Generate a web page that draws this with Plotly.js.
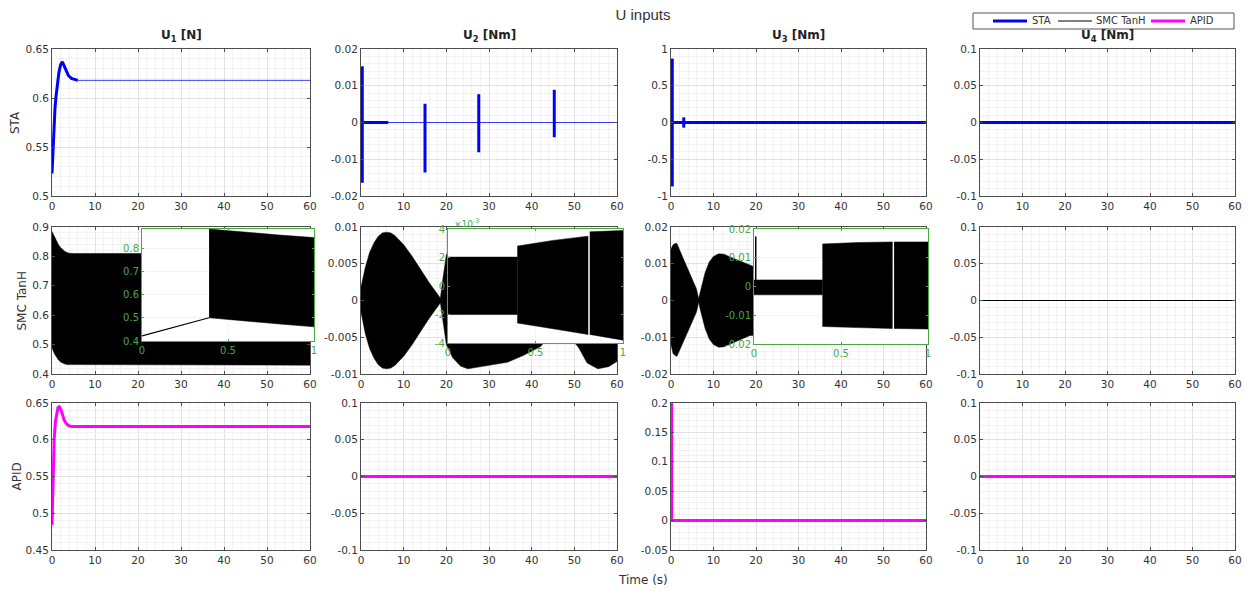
<!DOCTYPE html>
<html><head><meta charset="utf-8">
<script src="https://cdn.plot.ly/plotly-3.0.1.min.js"></script>
<style>html,body{margin:0;padding:0;background:#fff}#chart{width:1250px;height:591px}</style>
</head><body><div id="chart"></div>
<script>
// ================= DATA =================
// Row 1 : STA
const tU1STA = [0,0.1,0.2,0.35,0.5,0.7,0.9,1.2,1.6,2.0,2.4,2.8,3.3,3.8,4.5,5.2,6.0];
const yU1STA = [0.523,0.535,0.548,0.562,0.575,0.59,0.6,0.613,0.626,0.634,0.637,0.633,0.627,0.623,0.62,0.619,0.618];
const tU1STAtail = [6,60];
const yU1STAtail = [0.618,0.618];
const tU2STA = [0,6.4];
const yU2STA = [0,0];
const tU2STAtail = [6.4,60];
const yU2STAtail = [0,0];
const spikeTU2STA = [0.3,15.0,27.6,45.3];
const spikeHiU2STA = [0.0153,0.0051,0.0077,0.0089];
const spikeLoU2STA = [-0.0164,-0.0136,-0.0081,-0.004];
const tU3STA = [0,60];
const yU3STA = [0,0];
const spikeTU3STA = [0.3,3.0];
const spikeHiU3STA = [0.87,0.07];
const spikeLoU3STA = [-0.87,-0.07];
const tU4STA = [0,60];
const yU4STA = [0,0];

// Row 2 : SMC TanH (chattering shown as envelopes)
const tU1SMC = [0,0.3,0.6,1,1.5,2,2.5,3,3.5,4,5,60];
const upU1SMC = [0.885,0.875,0.865,0.853,0.84,0.83,0.822,0.817,0.813,0.811,0.81,0.81];
const loU1SMC = [0.49,0.478,0.468,0.458,0.448,0.441,0.437,0.434,0.432,0.431,0.43,0.43];
const tU2SMC = [0,1,2,3,4,5,6,7,8,10,12,14,16,18,18.6,19.2,20,21.5,23.3,25,30,34.3,38,42,44,46.5,49,51,53,55.5,58,60];
const upU2SMC = [0.0018,0.0045,0.0065,0.0078,0.0087,0.0092,0.0093,0.0092,0.0088,0.0076,0.006,0.0042,0.0024,0.0008,0.0003,0.003,0.0062,0.0078,0.0089,0.0093,0.0088,0.0084,0.0075,0.0063,0.005,0.003,0.005,0.0064,0.0085,0.0093,0.009,0.0083];
const loU2SMC = [-0.0016,-0.0045,-0.0065,-0.0078,-0.0087,-0.0092,-0.0093,-0.0092,-0.0088,-0.0076,-0.006,-0.0042,-0.0024,-0.0008,-0.0003,-0.003,-0.006,-0.0078,-0.0089,-0.0093,-0.0088,-0.0084,-0.0075,-0.0063,-0.005,-0.003,-0.005,-0.0064,-0.0085,-0.0093,-0.009,-0.0083];
const tU3SMC = [0,0.5,1,1.4,2,3,4,5,6,6.5,7,8,9,10,11.2,12.5,14,16,18.6,20,30,40,50,60];
const upU3SMC = [0.014,0.0152,0.0155,0.0155,0.0138,0.0111,0.0085,0.0058,0.0031,0.0005,0.003,0.0075,0.0105,0.012,0.0127,0.0126,0.0118,0.0108,0.0095,0.009,0.009,0.009,0.009,0.009];
const loU3SMC = [-0.012,-0.0145,-0.015,-0.0152,-0.0138,-0.0111,-0.0085,-0.0058,-0.0031,-0.0005,-0.003,-0.0075,-0.0105,-0.012,-0.0127,-0.0126,-0.0118,-0.0108,-0.0095,-0.0095,-0.0093,-0.0093,-0.0093,-0.0093];
const tU4SMC = [0,60];
const yU4SMC = [0,0];
// insets (first second)
const tIn1Line = [0,0.39];
const yIn1Line = [0.422,0.5];
const tIn1Band = [0.39,0.6,0.8,1];
const upIn1Band = [0.882,0.868,0.856,0.845];
const loIn1Band = [0.5,0.486,0.473,0.461];
const tIn2A = [0,0.396];
const upIn2A = [0.00203,0.00203];
const loIn2A = [-0.002,-0.002];
const tIn2B = [0.396,0.6,0.8];
const upIn2B = [0.0028,0.0032,0.0035];
const loIn2B = [-0.0026,-0.003,-0.0034];
const tIn2C = [0.81,1];
const upIn2C = [0.0038,0.0039];
const loIn2C = [-0.0034,-0.0038];
const tIn3Spike = [0.01,0.01];
const yIn3Spike = [0.0023,0.0174];
const tIn3A = [0,0.393];
const upIn3A = [0.0023,0.0023];
const loIn3A = [-0.0029,-0.0029];
const tIn3B = [0.393,0.6,0.795];
const upIn3B = [0.0148,0.0153,0.0155];
const loIn3B = [-0.0139,-0.0143,-0.0146];
const tIn3C = [0.805,1];
const upIn3C = [0.0155,0.0155];
const loIn3C = [-0.0146,-0.0148];

// Row 3 : APID
const tU1APID = [0,0.2,0.5,0.8,1.1,1.4,1.7,2.0,2.4,2.8,3.3,3.9,4.5,6,60];
const yU1APID = [0.484,0.54,0.6,0.625,0.638,0.644,0.645,0.642,0.635,0.627,0.622,0.619,0.618,0.618,0.618];
const tU2APID = [0,60];
const yU2APID = [0,0];
const tU3APID = [0.15,0.15,60];
const yU3APID = [0.2,0,0];
const tU4APID = [0,60];
const yU4APID = [0,0];

// Tick labels / texts
const xTicks = [0,10,20,30,40,50,60];
const yTicksU1STA = [0.5,0.55,0.6,0.65];
const yTicksU2STA = [-0.02,-0.01,0,0.01,0.02];
const yTicksU3STA = [-1,-0.5,0,0.5,1];
const yTicksU4 = [-0.1,-0.05,0,0.05,0.1];
const yTicksU1SMC = [0.4,0.5,0.6,0.7,0.8,0.9];
const yTicksU2SMC = [-0.01,-0.005,0,0.005,0.01];
const yTicksU3SMC = [-0.02,-0.01,0,0.01,0.02];
const yTicksU1APID = [0.45,0.5,0.55,0.6,0.65];
const yTicksU3APID = [-0.05,0,0.05,0.1,0.15,0.2];
const inXTicks = [0,0.5,1];
const inXTickText = ['0','0.5','1'];
const in1YTicks = [0.4,0.5,0.6,0.7,0.8];
const in2YTicks = [-0.004,-0.002,0,0.002,0.004];
const in2YTickText = ['-4','-2','0','2','4'];
const in3YTicks = [-0.02,-0.01,0,0.01,0.02];
const colTitles = ['U<sub>1</sub> [N]','U<sub>2</sub> [Nm]','U<sub>3</sub> [Nm]','U<sub>4</sub> [Nm]'];
const rowTitles = ['STA','SMC TanH','APID'];
const legendNames = ['STA','SMC TanH','APID'];

// ================= LAYOUT / STYLE =================
const W = 1250, H = 591;
const BLUE = '#0000ff', MAG = '#ff00ff', BLACK = '#000000';
const GRID = '#e2e2e2', MINOR = '#f2f2f2', AXC = '#4d4d4d', TXT = '#333333', GREEN = '#4aa843';
const FONT = 'DejaVu Sans, Arial, sans-serif';
const colPx = [[52,310],[361,617],[671,926],[980,1235]];
const rowPx = [[49,196],[227,374],[403,550]];
const yRanges = [
  [[0.5,0.65],[-0.02,0.02],[-1,1],[-0.1,0.1]],
  [[0.4,0.9],[-0.01,0.01],[-0.02,0.02],[-0.1,0.1]],
  [[0.45,0.65],[-0.1,0.1],[-0.05,0.2],[-0.1,0.1]]
];
const yTicks = [
  [yTicksU1STA,yTicksU2STA,yTicksU3STA,yTicksU4],
  [yTicksU1SMC,yTicksU2SMC,yTicksU3SMC,yTicksU4],
  [yTicksU1APID,yTicksU4,yTicksU3APID,yTicksU4]
];
const rowLabelX = [15.5,22,16];
// manual legend geometry (pixels)
const legBox = {x0: 973, x1: 1234, y0: 13, y1: 29};
const legLineX = [[993,1027],[1058,1092],[1151,1185]];
const legTextX = [1030,1094,1188];
const legColors = [BLUE, BLACK, MAG];
const legWidths = [3, 1, 3];

function fmt(v){ return String(Number(v.toPrecision(6))); }
function sid(k){ return k === 1 ? '' : String(k); }
function ax(k){ return {xaxis:'x'+sid(k), yaxis:'y'+sid(k)}; }

const layout = {
  width: W, height: H,
  margin: {l:0,r:0,t:0,b:0},
  paper_bgcolor: '#ffffff', plot_bgcolor: '#ffffff',
  font: {family: FONT, size: 10.5, color: TXT},
  title: {text: 'U inputs', font: {family: 'Liberation Sans, Arial, sans-serif', size: 15, color: '#333333'},
          x: 643/W, xanchor: 'center', xref: 'paper', y: 1-15/H, yanchor: 'middle', yref: 'container'},
  showlegend: false,
  annotations: [], shapes: []
};

for (let r = 0; r < 3; r++) {
  for (let c = 0; c < 4; c++) {
    const k = r*4 + c + 1;
    const yr = yRanges[r][c];
    const yt = yTicks[r][c];
    const step = yt[1] - yt[0];
    layout['xaxis'+sid(k)] = {
      domain: [colPx[c][0]/W, colPx[c][1]/W], anchor: 'y'+sid(k), range: [0,60],
      tickmode: 'array', tickvals: xTicks, ticktext: xTicks.map(fmt),
      ticks: 'inside', ticklen: 3, tickcolor: AXC, showline: true, linecolor: AXC, linewidth: 1, mirror: 'ticks',
      showgrid: true, gridcolor: GRID, gridwidth: 1, zeroline: false,
      minor: {tickmode: 'linear', tick0: 0, dtick: 2, showgrid: true, gridcolor: MINOR, ticks: ''},
      tickfont: {size: 10.5, color: TXT}, fixedrange: true
    };
    layout['yaxis'+sid(k)] = {
      domain: [1-rowPx[r][1]/H, 1-rowPx[r][0]/H], anchor: 'x'+sid(k), range: yr,
      tickmode: 'array', tickvals: yt, ticktext: yt.map(fmt),
      ticks: 'inside', ticklen: 3, tickcolor: AXC, showline: true, linecolor: AXC, linewidth: 1, mirror: 'ticks',
      showgrid: true, gridcolor: GRID, gridwidth: 1, zeroline: false,
      minor: {tickmode: 'linear', tick0: yr[0], dtick: step/5, showgrid: true, gridcolor: MINOR, ticks: ''},
      tickfont: {size: 10.5, color: TXT}, fixedrange: true
    };
  }
}

// insets
const insetPx = [
  {k: 13, x: [142,314], y: [229,341], yr: [0.4,0.882], yt: in1YTicks, ytt: in1YTicks.map(fmt)},
  {k: 14, x: [448,623], y: [229,343], yr: [-0.004,0.004], yt: in2YTicks, ytt: in2YTickText},
  {k: 15, x: [754,928], y: [229,344], yr: [-0.02,0.02], yt: in3YTicks, ytt: in3YTicks.map(fmt)}
];
insetPx.forEach(p => {
  layout['xaxis'+p.k] = {
    domain: [p.x[0]/W, p.x[1]/W], anchor: 'y'+p.k, range: [0,1],
    tickmode: 'array', tickvals: inXTicks, ticktext: inXTickText,
    ticks: 'inside', ticklen: 2, tickcolor: GREEN, showline: true, linecolor: GREEN, linewidth: 1, mirror: 'ticks',
    showgrid: true, gridcolor: '#f4f4f4', zeroline: false,
    tickfont: {size: 10, color: GREEN}, fixedrange: true
  };
  layout['yaxis'+p.k] = {
    domain: [1-p.y[1]/H, 1-p.y[0]/H], anchor: 'x'+p.k, range: p.yr,
    tickmode: 'array', tickvals: p.yt, ticktext: p.ytt,
    ticks: 'inside', ticklen: 2, tickcolor: GREEN, showline: true, linecolor: GREEN, linewidth: 1, mirror: 'ticks',
    showgrid: true, gridcolor: '#f4f4f4', zeroline: false,
    tickfont: {size: 10, color: GREEN}, fixedrange: true
  };
});

// text annotations
colTitles.forEach((t, c) => {
  layout.annotations.push({text: t, xref: 'paper', yref: 'paper', x: (colPx[c][0]+colPx[c][1])/2/W, y: 1-36/H,
    xanchor: 'center', yanchor: 'middle', showarrow: false, font: {size: 12, color: '#222222', weight: 'bold'}});
});
rowTitles.forEach((t, r) => {
  layout.annotations.push({text: t, xref: 'paper', yref: 'paper', x: rowLabelX[r]/W, y: 1-(rowPx[r][0]+rowPx[r][1])/2/H,
    xanchor: 'center', yanchor: 'middle', textangle: -90, showarrow: false, font: {size: 12, color: TXT}});
});
layout.annotations.push({text: 'Time (s)', xref: 'paper', yref: 'paper', x: 643/W, y: 1-580/H,
  xanchor: 'center', yanchor: 'middle', showarrow: false, font: {size: 12, color: TXT}});
layout.annotations.push({text: '\u00d710<sup>-3</sup>', xref: 'paper', yref: 'paper', x: 452/W, y: 1-223/H,
  xanchor: 'left', yanchor: 'middle', showarrow: false, font: {size: 9, color: GREEN}});

// legend (drawn as box + line samples + labels)
layout.shapes.push({type: 'rect', xref: 'paper', yref: 'paper', x0: legBox.x0/W, x1: legBox.x1/W,
  y0: 1-legBox.y1/H, y1: 1-legBox.y0/H, line: {color: '#555555', width: 1}, fillcolor: '#ffffff', layer: 'above'});
const legY = (legBox.y0 + legBox.y1)/2;
legendNames.forEach((n, i) => {
  layout.shapes.push({type: 'line', xref: 'paper', yref: 'paper', x0: legLineX[i][0]/W, x1: legLineX[i][1]/W,
    y0: 1-legY/H, y1: 1-legY/H, line: {color: legColors[i], width: legWidths[i]}, layer: 'above'});
  layout.annotations.push({text: n, xref: 'paper', yref: 'paper', x: legTextX[i]/W, y: 1-legY/H,
    xanchor: 'left', yanchor: 'middle', showarrow: false, font: {size: 10, color: TXT}});
});

// ================= TRACES =================
function line(x, y, k, color, width, name) {
  return Object.assign({type: 'scatter', mode: 'lines', x: x, y: y, line: {color: color, width: width},
    name: name || '', showlegend: false, hoverinfo: 'skip'}, ax(k));
}
function band(x, up, lo, k, color) {
  const xs = x.concat(x.slice().reverse());
  const ys = up.concat(lo.slice().reverse());
  return Object.assign({type: 'scatter', mode: 'lines', x: xs, y: ys, fill: 'toself', fillcolor: color,
    line: {color: color, width: 0.5}, showlegend: false, hoverinfo: 'skip'}, ax(k));
}
function spikes(t, hi, lo, k, color, width) {
  const xs = [], ys = [];
  t.forEach((v, i) => { xs.push(v, v, null); ys.push(lo[i], hi[i], null); });
  return line(xs, ys, k, color, width);
}

const traces = [
  // STA
  line(tU1STA, yU1STA, 1, BLUE, 3, 'STA'),
  line(tU1STAtail, yU1STAtail, 1, 'rgba(0,0,255,0.75)', 1, 'STA'),
  line(tU2STA, yU2STA, 2, BLUE, 3, 'STA'),
  line(tU2STAtail, yU2STAtail, 2, 'rgba(0,0,255,0.75)', 1, 'STA'),
  spikes(spikeTU2STA, spikeHiU2STA, spikeLoU2STA, 2, BLUE, 3),
  line(tU3STA, yU3STA, 3, BLUE, 3, 'STA'),
  spikes(spikeTU3STA, spikeHiU3STA, spikeLoU3STA, 3, BLUE, 3),
  line(tU4STA, yU4STA, 4, BLUE, 3, 'STA'),
  // SMC TanH
  line(tU4SMC, yU4SMC, 8, BLACK, 1, 'SMC TanH'),
  band(tU1SMC, upU1SMC, loU1SMC, 5, BLACK),
  band(tU2SMC, upU2SMC, loU2SMC, 6, BLACK),
  band(tU3SMC, upU3SMC, loU3SMC, 7, BLACK),
  line(tIn1Line, yIn1Line, 13, BLACK, 1.2, 'SMC TanH'),
  band(tIn1Band, upIn1Band, loIn1Band, 13, BLACK),
  band(tIn2A, upIn2A, loIn2A, 14, BLACK),
  band(tIn2B, upIn2B, loIn2B, 14, BLACK),
  band(tIn2C, upIn2C, loIn2C, 14, BLACK),
  line(tIn3Spike, yIn3Spike, 15, BLACK, 1.5, 'SMC TanH'),
  band(tIn3A, upIn3A, loIn3A, 15, BLACK),
  band(tIn3B, upIn3B, loIn3B, 15, BLACK),
  band(tIn3C, upIn3C, loIn3C, 15, BLACK),
  // APID
  line(tU1APID, yU1APID, 9, MAG, 3, 'APID'),
  line(tU2APID, yU2APID, 10, MAG, 3, 'APID'),
  line(tU3APID, yU3APID, 11, MAG, 3, 'APID'),
  line(tU4APID, yU4APID, 12, MAG, 3, 'APID')
];

Plotly.newPlot('chart', traces, layout, {displayModeBar: false, staticPlot: true});
</script>
</body></html>
